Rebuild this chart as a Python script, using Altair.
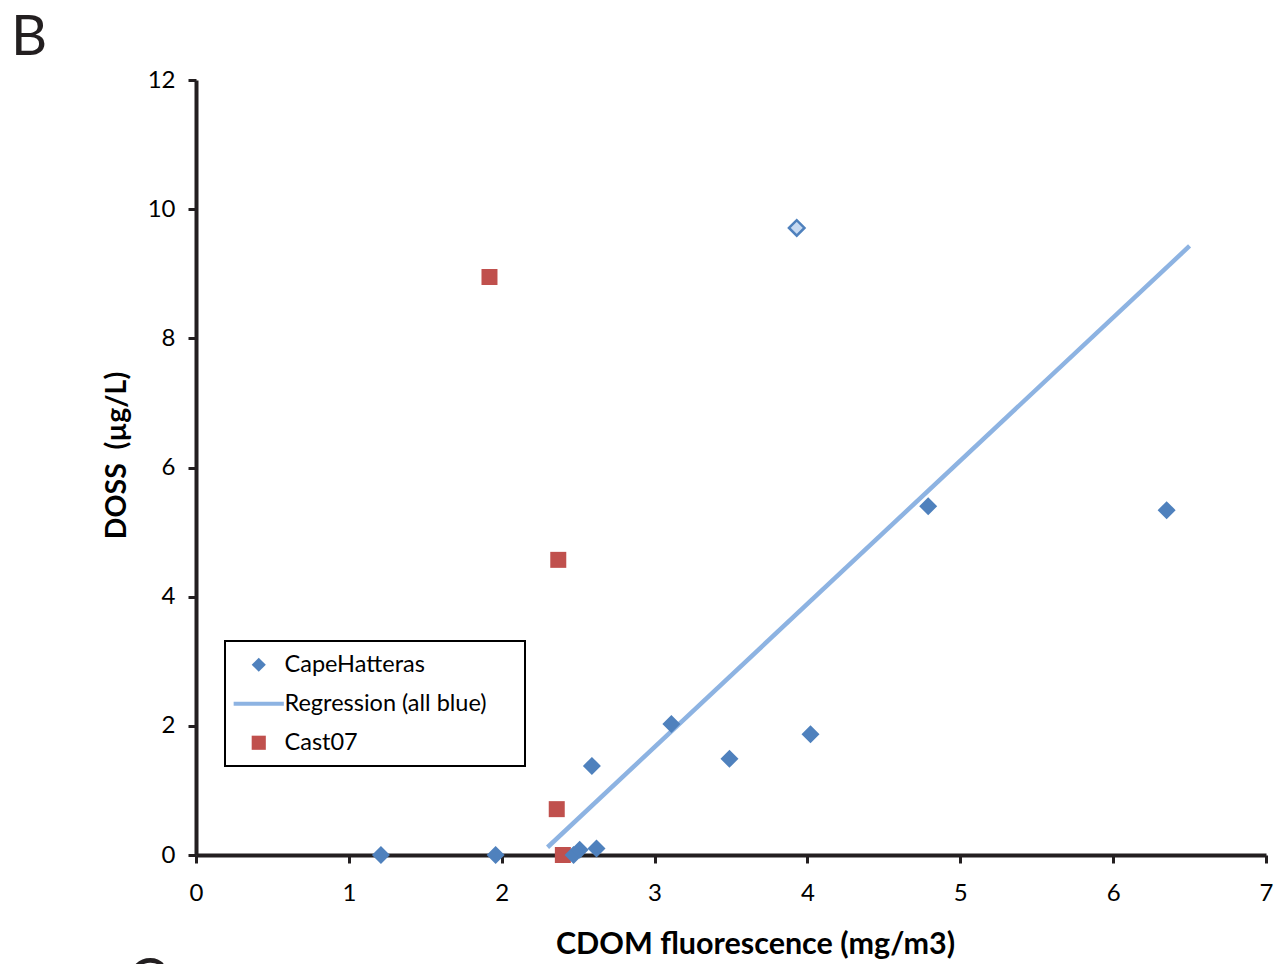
import altair as alt
import pandas as pd

# ---- data ----
cape_x = [1.21, 1.96, 2.47, 2.51, 2.62, 2.59, 3.11, 3.49, 4.02, 4.79, 6.35]
cape_y = [0.00, 0.00, 0.00, 0.08, 0.10, 1.38, 2.03, 1.49, 1.87, 5.40, 5.34]
outlier_x = [3.93]
outlier_y = [9.71]
cast_x = [1.92, 2.37, 2.36, 2.40]
cast_y = [8.95, 4.57, 0.71, 0.00]
reg_x = [2.30, 6.50]
reg_y = [0.12, 9.43]

series_names = ["CapeHatteras", "Regression (all blue)", "Cast07"]
series_colors = ["#4F81BD", "#8DB3E2", "#C0504D"]
series_shapes = ["diamond", "M-3.55,-0.3H3.55V0.3H-3.55Z", "square"]
x_ticks = [0, 1, 2, 3, 4, 5, 6, 7]
y_ticks = [0, 2, 4, 6, 8, 10, 12]
panel_label = ["B"]
next_panel_label = ["C"]

FONT = "Lato"
INK = "#231F20"
nbsp = "\u00a0"

cape = pd.DataFrame({"x": cape_x, "y": cape_y, "series": series_names[0]})
cast = pd.DataFrame({"x": cast_x, "y": cast_y, "series": series_names[2]})
outlier = pd.DataFrame({"x": outlier_x, "y": outlier_y})
reg = pd.DataFrame({"x": reg_x, "y": reg_y})

xs = alt.Scale(domain=[0, 7], nice=False, zero=False)
ys = alt.Scale(domain=[0, 12], nice=False, zero=False)

x_enc = alt.X("x:Q", scale=xs, axis=alt.Axis(
    title="CDOM fluorescence (mg/m3)", values=x_ticks, format="d",
    labelPadding=18, titlePadding=24, labelFlush=False,
    titleX=559, titleAlign="center", titleFontSize=30.5))
y_enc = alt.Y("y:Q", scale=ys, axis=alt.Axis(
    title="DOSS" + nbsp + nbsp + "(µg/L)", values=y_ticks, format="d",
    labelPadding=13, titlePadding=16, labelFlush=False,
    titleY=375, titleAlign="center", titleFontSize=28.5))

legend = alt.Legend(
    orient="none", legendX=29, legendY=561, title=None,
    labelFontSize=23.5, labelFont=FONT, labelColor="black", labelLimit=500,
    symbolSize=200, symbolStrokeWidth=0, symbolOpacity=1,
    padding=12, symbolOffset=10, labelOffset=14, rowPadding=14,
)

color = alt.Color("series:N", scale=alt.Scale(domain=series_names, range=series_colors), legend=legend)
shape = alt.Shape("series:N", scale=alt.Scale(domain=series_names, range=series_shapes), legend=legend)

# legend frame (white box with black border) sitting behind the legend entries
frame = alt.Chart(pd.DataFrame({"f": [0]})).mark_rect(
    fill="white", stroke="black", strokeWidth=2).encode(
    x=alt.value(29), x2=alt.value(329), y=alt.value(561), y2=alt.value(686))

red = alt.Chart(cast).mark_point(filled=True, size=256, opacity=1, strokeWidth=0).encode(
    x=x_enc, y=y_enc, color=color, shape=shape)
line = alt.Chart(reg).mark_line(color="#8DB3E2", strokeWidth=4.5).encode(x=x_enc, y=y_enc)
blue = alt.Chart(cape).mark_point(filled=True, size=324, opacity=1, strokeWidth=0).encode(
    x=x_enc, y=y_enc, color=color, shape=shape)
out = alt.Chart(outlier).mark_point(shape="diamond", filled=False, size=240, opacity=1,
                                    fill="#C6D9F1", fillOpacity=1, stroke="#4F81BD", strokeWidth=2.5).encode(
    x=x_enc, y=y_enc)

label_b = alt.Chart(pd.DataFrame({"t": panel_label})).mark_text(
    font=FONT, fontSize=56, align="left", baseline="alphabetic", color=INK).encode(
    text="t:N", x=alt.value(-185), y=alt.value(-25))
label_c = alt.Chart(pd.DataFrame({"t": next_panel_label})).mark_text(
    font=FONT, fontSize=56, align="left", baseline="alphabetic", color=INK).encode(
    text="t:N", x=alt.value(-68), y=alt.value(918))

chart = alt.layer(frame, red, line, blue, out, label_b, label_c).properties(
    width=1070, height=775,
    autosize="none",
    padding={"left": 196, "top": 80, "right": 16, "bottom": 109},
    background="white",
).configure_view(stroke=None).configure_axis(
    grid=False, domainColor=INK, domainWidth=4, tickColor=INK, tickWidth=3, tickSize=8,
    labelFont=FONT, labelFontSize=24, labelColor="black",
    titleFont=FONT, titleFontSize=28, titleFontWeight="bold", titleColor="black",
)

chart.save("out.html", embed_options={"renderer": "svg", "actions": False})
